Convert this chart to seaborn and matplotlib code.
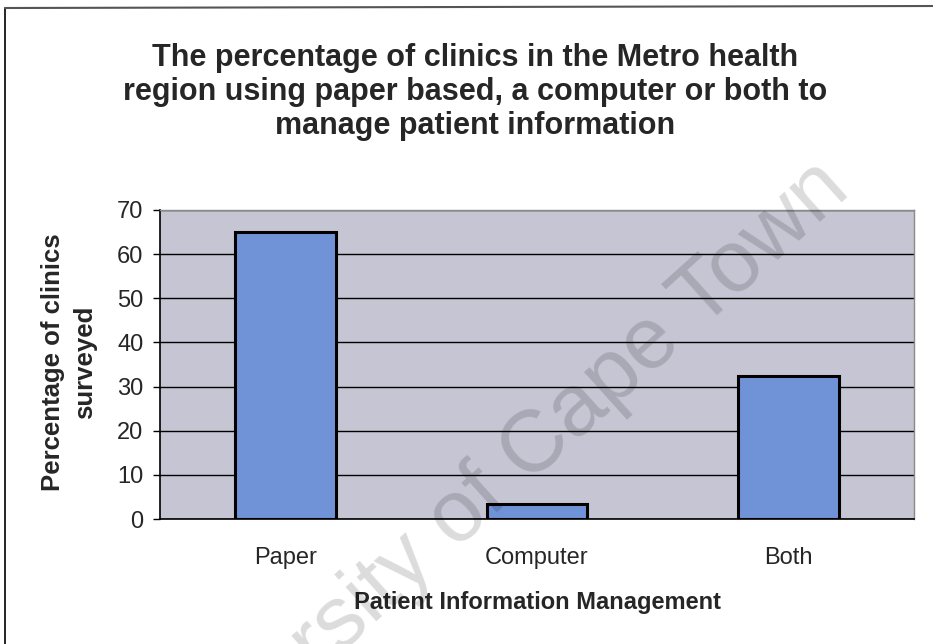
import matplotlib
matplotlib.use("Agg")
import matplotlib.pyplot as plt
import seaborn as sns
import pandas as pd
from matplotlib.lines import Line2D

categories = ["Paper", "Computer", "Both"]
values = [65, 3.3, 32.4]
yticks = [0, 10, 20, 30, 40, 50, 60, 70]

title = ("The percentage of clinics in the Metro health\n"
         "region using paper based, a computer or both to\n"
         "manage patient information")
ylabel = "Percentage of clinics\nsurveyed"
xlabel = "Patient Information Management"

sns.set_theme(style="white")
plt.rcParams['font.family'] = ['Liberation Sans', 'DejaVu Sans']

df = pd.DataFrame({"cat": categories, "val": values})

W, H = 933, 644
fig = plt.figure(figsize=(W / 100, H / 100), dpi=100)
fig.patch.set_facecolor("white")
ax = fig.add_axes([160 / W, 1 - 519 / H, (914 - 160) / W, (519 - 210) / H])
ax.set_facecolor("#c5c5d3")

sns.barplot(data=df, x="cat", y="val", ax=ax, color="#7093d8", saturation=1,
            width=0.4, edgecolor="black", linewidth=2.2, zorder=3)

ax.set_ylim(0, 70)
ax.set_xlim(-0.5, 2.5)
ax.set_yticks(yticks)
ax.set_yticklabels([str(t) for t in yticks], fontsize=17)
ax.grid(axis="y", color="black", linewidth=1.0, zorder=1)
ax.set_axisbelow(True)

ax.set_xticks(range(len(categories)))
ax.set_xticklabels(categories, fontsize=17)
ax.set_xticks([-0.5, 0.5, 1.5, 2.5], minor=True)
ax.tick_params(axis="x", which="major", length=0, pad=20)
ax.tick_params(axis="x", which="minor", length=6, width=1, color="black", direction="out")
ax.tick_params(axis="y", which="major", length=5, width=1, color="black", direction="out", pad=7, left=True)

for s in ["top", "right"]:
    ax.spines[s].set_color("#8a8a8a")
    ax.spines[s].set_linewidth(1)
for s in ["left", "bottom"]:
    ax.spines[s].set_color("black")
    ax.spines[s].set_linewidth(1.2)

ax.set_xlabel(xlabel, fontsize=17, fontweight="bold", labelpad=16)
ax.set_ylabel(ylabel, fontsize=18.5, fontweight="bold", linespacing=1.45)
ax.yaxis.label.set_va("center")
ax.yaxis.set_label_coords((69 - 160) / 754, (519 - 362) / 309)

fig.text(475 / W, 1 - 92 / H, title, ha="center", va="center", fontsize=22,
         fontweight="bold", linespacing=1.17)

# watermark
fig.text(487 / W, 1 - 492 / H, "University of Cape Town", ha="center", va="center",
         rotation_mode="anchor", fontsize=63, rotation=42, color="black",
         alpha=0.14, zorder=10)

# figure frame lines
fig.add_artist(Line2D([5 / W, 5 / W], [0, 1 - 8 / H], transform=fig.transFigure,
                      color="black", linewidth=1.2))
fig.add_artist(Line2D([5 / W, 1], [1 - 8 / H, 1 - 6 / H], transform=fig.transFigure,
                      color="#555555", linewidth=1.5))

fig.savefig("out.png", dpi=100)
